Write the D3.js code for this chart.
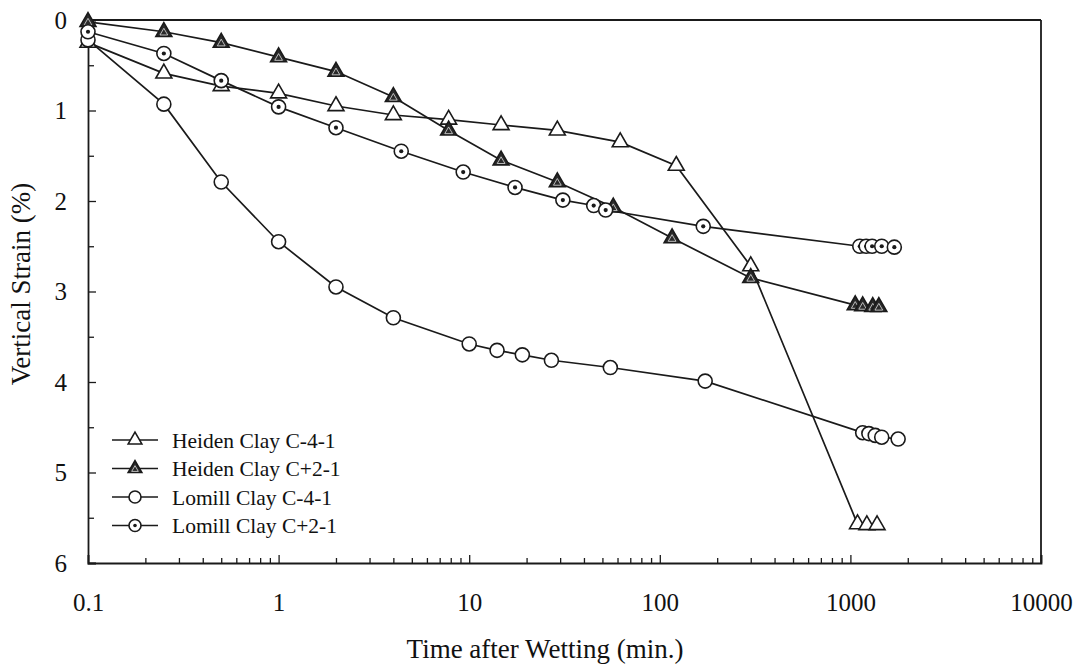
<!DOCTYPE html>
<html>
<head>
<meta charset="utf-8">
<script src="https://cdn.jsdelivr.net/npm/d3@7"></script>
<style>
  body { margin: 0; background: #fff; }
  svg { font-family: "Liberation Serif", "Times New Roman", serif; }
</style>
</head>
<body>
<div id="root"></div>
<script>
// Tick values
const xTicks = [0.1, 1, 10, 100, 1000, 10000];
const yTicks = [0, 1, 2, 3, 4, 5, 6];

// Heiden Clay C-4-1 (open triangles)
const heidenC41Time = [0.1, 0.25, 0.5, 1, 2, 4, 7.8, 14.7, 29, 62, 122, 300, 1090, 1220, 1380];
const heidenC41Strain = [0.25, 0.59, 0.73, 0.81, 0.95, 1.05, 1.1, 1.16, 1.22, 1.35, 1.61, 2.72, 5.57, 5.58, 5.58];

// Heiden Clay C+2-1 (filled triangles)
const heidenC21Time = [0.1, 0.25, 0.5, 1, 2, 4, 7.8, 14.7, 29, 57, 116, 300, 1060, 1160, 1310, 1410];
const heidenC21Strain = [0.02, 0.13, 0.25, 0.41, 0.57, 0.85, 1.22, 1.55, 1.79, 2.07, 2.41, 2.85, 3.15, 3.16, 3.17, 3.17];

// Lomill Clay C-4-1 (open circles)
const lomillC41Time = [0.1, 0.25, 0.5, 1, 2, 4, 10, 14, 19, 27, 55, 173, 1160, 1250, 1350, 1460, 1780];
const lomillC41Strain = [0.22, 0.93, 1.79, 2.45, 2.95, 3.29, 3.58, 3.65, 3.70, 3.76, 3.84, 3.99, 4.56, 4.57, 4.59, 4.61, 4.63];

// Lomill Clay C+2-1 (dotted circles)
const lomillC21Time = [0.1, 0.25, 0.5, 1, 2, 4.4, 9.3, 17.4, 31, 45, 52, 169, 1120, 1210, 1300, 1460, 1700];
const lomillC21Strain = [0.13, 0.37, 0.67, 0.96, 1.19, 1.45, 1.68, 1.85, 1.99, 2.05, 2.1, 2.28, 2.5, 2.5, 2.5, 2.5, 2.51];

const seriesNames = ["Heiden Clay C-4-1", "Heiden Clay C+2-1", "Lomill Clay C-4-1", "Lomill Clay C+2-1"];
const seriesMarks = ["triOpen", "triFilled", "circOpen", "circDot"];

const series = [
  { name: seriesNames[0], mark: seriesMarks[0], x: heidenC41Time, y: heidenC41Strain },
  { name: seriesNames[1], mark: seriesMarks[1], x: heidenC21Time, y: heidenC21Strain },
  { name: seriesNames[2], mark: seriesMarks[2], x: lomillC41Time, y: lomillC41Strain },
  { name: seriesNames[3], mark: seriesMarks[3], x: lomillC21Time, y: lomillC21Strain }
];

const W = 1080, H = 666;
const margin = { top: 20, right: 39, bottom: 103, left: 88 };
const width = W - margin.left - margin.right;
const height = H - margin.top - margin.bottom;
const ink = "#1a1a1a";

const svg = d3.select("#root").append("svg")
  .attr("width", W)
  .attr("height", H);

const g = svg.append("g")
  .attr("transform", `translate(${margin.left},${margin.top})`);

const x = d3.scaleLog().domain([0.1, 10000]).range([0, width]);
const y = d3.scaleLinear().domain([0, 6]).range([0, height]);

// minor ticks
const xMinor = [];
xTicks.slice(0, -1).forEach(t => { for (let k = 2; k <= 9; k++) xMinor.push(t * k); });
const yMinor = d3.range(0.5, 6, 1);

g.append("g")
  .attr("transform", `translate(0,${height})`)
  .call(d3.axisBottom(x).tickValues(xMinor).tickSize(-5).tickFormat(""))
  .call(a => a.select(".domain").remove())
  .call(a => a.selectAll("line").attr("stroke", ink).attr("stroke-width", 1.3));

g.append("g")
  .call(d3.axisLeft(y).tickValues(yMinor).tickSize(-6).tickFormat(""))
  .call(a => a.select(".domain").remove())
  .call(a => a.selectAll("line").attr("stroke", ink).attr("stroke-width", 1.3));

// major axes
g.append("g")
  .attr("transform", `translate(0,${height})`)
  .call(d3.axisBottom(x).tickValues(xTicks).tickSize(-8).tickPadding(30).tickFormat(d => String(d)))
  .call(a => a.select(".domain").attr("stroke", ink).attr("stroke-width", 1.8))
  .call(a => a.selectAll("line").attr("stroke", ink).attr("stroke-width", 1.3))
  .call(a => a.selectAll("text").attr("font-size", 25).attr("fill", "#111").style("font-family", "Liberation Serif"));

g.append("g")
  .call(d3.axisLeft(y).tickValues(yTicks).tickSize(-8).tickPadding(21).tickFormat(d3.format("d")))
  .call(a => a.select(".domain").attr("stroke", ink).attr("stroke-width", 1.8))
  .call(a => a.selectAll("line").attr("stroke", ink).attr("stroke-width", 1.3))
  .call(a => a.selectAll("text").attr("font-size", 25).attr("fill", "#111").style("font-family", "Liberation Serif"));

// top and right border
g.append("line").attr("x1", 0).attr("x2", width).attr("y1", 0).attr("y2", 0)
  .attr("stroke", ink).attr("stroke-width", 1.8);
g.append("line").attr("x1", width).attr("x2", width).attr("y1", 0).attr("y2", height)
  .attr("stroke", ink).attr("stroke-width", 1.8);

// axis titles
svg.append("text")
  .attr("x", 545).attr("y", 658)
  .attr("text-anchor", "middle")
  .attr("font-size", 27).attr("fill", "#111")
  .text("Time after Wetting (min.)");

svg.append("text")
  .attr("transform", "translate(30,284) rotate(-90)")
  .attr("text-anchor", "middle")
  .attr("font-size", 27).attr("fill", "#111")
  .text("Vertical Strain (%)");

// marker drawing
const triBig = d3.symbol(d3.symbolTriangle, 110)();
const triSmall = d3.symbol(d3.symbolTriangle, 26)();

function drawMark(sel, mark, r) {
  const s = r / 7;
  if (mark === "triOpen") {
    sel.append("path").attr("d", triBig).attr("transform", `scale(${s})`)
      .attr("fill", "#fff").attr("stroke", ink).attr("stroke-width", 1.6 / s);
  } else if (mark === "triFilled") {
    sel.append("path").attr("d", triBig).attr("transform", `scale(${s})`)
      .attr("fill", "#2a2a2a").attr("stroke", ink).attr("stroke-width", 1.6 / s);
    sel.append("path").attr("d", triSmall).attr("transform", `translate(0,1) scale(${s})`)
      .attr("fill", "none").attr("stroke", "#ddd").attr("stroke-width", 0.8 / s);
  } else if (mark === "circOpen") {
    sel.append("circle").attr("r", r)
      .attr("fill", "#fff").attr("stroke", ink).attr("stroke-width", 1.6);
  } else {
    sel.append("circle").attr("r", r)
      .attr("fill", "#fff").attr("stroke", ink).attr("stroke-width", 1.6);
    sel.append("circle").attr("r", r * 0.3).attr("fill", ink);
  }
}

const line = d3.line()
  .x(d => x(d[0]))
  .y(d => y(d[1]));

series.forEach(s => {
  const pts = s.x.map((v, i) => [v, s.y[i]]);
  g.append("path")
    .datum(pts)
    .attr("fill", "none")
    .attr("stroke", ink)
    .attr("stroke-width", 1.7)
    .attr("d", line);
});

series.forEach(s => {
  const pts = s.x.map((v, i) => [v, s.y[i]]);
  pts.forEach(p => {
    const m = g.append("g").attr("transform", `translate(${x(p[0])},${y(p[1])})`);
    drawMark(m, s.mark, 7);
  });
});

// legend
const legend = svg.append("g").attr("transform", "translate(112,440)");
series.forEach((s, i) => {
  const row = legend.append("g").attr("transform", `translate(0,${i * 28.5})`);
  row.append("line").attr("x1", 0).attr("x2", 46).attr("y1", 0).attr("y2", 0)
    .attr("stroke", ink).attr("stroke-width", 1.6);
  const m = row.append("g").attr("transform", "translate(23,0)");
  drawMark(m, s.mark, 6);
  row.append("text")
    .attr("x", 60).attr("y", 0).attr("dy", "0.35em")
    .attr("font-size", 21.5).attr("fill", "#111")
    .text(s.name);
});
</script>
</body>
</html>
